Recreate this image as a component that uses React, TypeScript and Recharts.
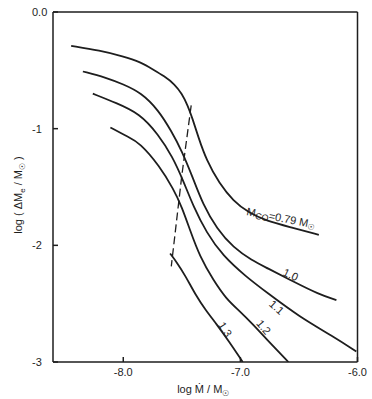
import React from "react";
import { LineChart, Line, XAxis, YAxis, ReferenceDot, Label } from "recharts";

// M_CO = 0.79 Msun
const x079 = [-8.445, -8.2, -8.0, -7.85, -7.75, -7.65, -7.56, -7.5, -7.45, -7.41, -7.36, -7.29, -7.18, -7.06, -6.93, -6.78, -6.55, -6.33];
const y079 = [-0.29, -0.33, -0.38, -0.43, -0.49, -0.55, -0.62, -0.7, -0.8, -0.91, -1.07, -1.27, -1.47, -1.62, -1.72, -1.79, -1.85, -1.91];

// M_CO = 1.0
const x10 = [-8.345, -8.15, -8.0, -7.85, -7.7, -7.59, -7.5, -7.41, -7.32, -7.2, -7.06, -6.9, -6.78, -6.55, -6.33, -6.18];
const y10 = [-0.51, -0.56, -0.62, -0.69, -0.84, -1.02, -1.19, -1.41, -1.65, -1.86, -2.02, -2.13, -2.19, -2.31, -2.42, -2.47];

// M_CO = 1.1
const x11 = [-8.26, -8.06, -7.86, -7.7, -7.58, -7.49, -7.4, -7.29, -7.15, -6.95, -6.78, -6.5, -6.21, -6.01];
const y11 = [-0.7, -0.78, -0.87, -1.05, -1.24, -1.44, -1.67, -1.89, -2.09, -2.27, -2.4, -2.61, -2.78, -2.91];

// M_CO = 1.2
const x12 = [-8.11, -7.96, -7.86, -7.69, -7.57, -7.5, -7.43, -7.345, -7.23, -7.12, -7.01, -6.9, -6.78, -6.59];
const y12 = [-0.99, -1.07, -1.12, -1.32, -1.52, -1.67, -1.87, -2.1, -2.3, -2.46, -2.56, -2.67, -2.8, -3.0];

// M_CO = 1.3
const x13 = [-7.6, -7.54, -7.47, -7.38, -7.3, -7.2, -7.1, -6.98];
const y13 = [-2.07, -2.15, -2.26, -2.43, -2.55, -2.68, -2.82, -3.0];

// dashed line
const xDash = [-7.42, -7.5, -7.59];
const yDash = [-0.8, -1.4, -2.18];

const xTicks = [-8, -7, -6];
const yTicks = [0, -1, -2, -3];
const xTopTicks = [-8, -7];
const yRightTicks = [-1, -2];

const curveLabels = [
  { text: "1.0", x: -6.57, y: -2.25, angle: 25 },
  { text: "1.1", x: -6.69, y: -2.53, angle: 42 },
  { text: "1.2", x: -6.8, y: -2.7, angle: 50 },
  { text: "1.3", x: -7.13, y: -2.72, angle: 57 },
];

const toPoints = (xs: number[], ys: number[]) => xs.map((x, i) => ({ x, y: ys[i] }));

const INK = "#1e1e1e";
const FONT = "'Liberation Sans', Arial, sans-serif";

const curves = [
  toPoints(x079, y079),
  toPoints(x10, y10),
  toPoints(x11, y11),
  toPoints(x12, y12),
  toPoints(x13, y13),
];

const YTick = ({ x, y, payload }: any) => (
  <text x={x} y={y} dy="0.35em" textAnchor="start" fontSize={11} fill={INK} fontFamily={FONT}>
    {payload.value === 0 ? "0.0" : String(payload.value)}
  </text>
);

const rotatedText = (text: string, angle: number) => (props: any) => (
  <text
    x={props.cx}
    y={props.cy}
    transform={`rotate(${angle}, ${props.cx}, ${props.cy})`}
    textAnchor="middle"
    dominantBaseline="central"
    fontSize={11}
    fill={INK}
    fontFamily={FONT}
  >
    {text}
  </text>
);

const mcoLabel = (props: any) => (
  <text
    x={props.cx}
    y={props.cy}
    transform={`rotate(11, ${props.cx}, ${props.cy})`}
    textAnchor="middle"
    dominantBaseline="central"
    fontSize={11}
    fill={INK}
    fontFamily={FONT}
  >
    M
    <tspan fontSize={9} dy={3}>CO</tspan>
    <tspan dy={-3}>=0.79 M</tspan>
    <tspan fontSize={8} dy={3}>☉</tspan>
  </text>
);

export default function App() {
  return (
    <div style={{ position: "absolute", left: 0, top: 0, background: "#fff" }}>
      <LineChart width={372} height={399} margin={{ top: 12, right: 14.5, bottom: 0, left: 0 }}>
        <XAxis
          xAxisId="b"
          dataKey="x"
          type="number"
          domain={[-8.6, -6]}
          allowDataOverflow
          ticks={xTicks}
          tickFormatter={(v: number) => v.toFixed(1)}
          height={37}
          tickSize={-5}
          tickMargin={11}
          stroke={INK}
          strokeWidth={1.5}
          tick={{ fontSize: 11, fill: INK, fontFamily: FONT }}
        >
          <Label
            content={({ viewBox }: any) => (
              <text
                x={viewBox.x + viewBox.width / 2 - 2}
                y={viewBox.y + 31}
                textAnchor="middle"
                fontSize={11}
                fill={INK}
                fontFamily={FONT}
              >
                log M{"\u0307"} / M
                <tspan fontSize={8} dy={3}>☉</tspan>
              </text>
            )}
          />
        </XAxis>
        <XAxis
          xAxisId="t"
          orientation="top"
          mirror
          dataKey="x"
          type="number"
          domain={[-8.6, -6]}
          allowDataOverflow
          ticks={xTopTicks}
          tick={false}
          height={20}
          tickSize={5}
          stroke={INK}
          strokeWidth={1.5}
        />
        <YAxis
          yAxisId="l"
          dataKey="y"
          type="number"
          domain={[-3, 0]}
          allowDataOverflow
          ticks={yTicks}
          width={53}
          tickSize={-5}
          tickMargin={26}
          stroke={INK}
          strokeWidth={1.5}
          tick={<YTick />}
        >
          <Label
            content={({ viewBox }: any) => {
              const cx = 22;
              const cy = viewBox.y + viewBox.height / 2 + 8;
              return (
                <text
                  x={cx}
                  y={cy}
                  transform={`rotate(-90, ${cx}, ${cy})`}
                  textAnchor="middle"
                  fontSize={11}
                  fill={INK}
                  fontFamily={FONT}
                >
                  log ( ΔM
                  <tspan fontSize={8} dy={3}>e</tspan>
                  <tspan dy={-3}> / M</tspan>
                  <tspan fontSize={8} dy={3}>☉</tspan>
                  <tspan dy={-3}> )</tspan>
                </text>
              );
            }}
          />
        </YAxis>
        <YAxis
          yAxisId="r"
          orientation="right"
          mirror
          dataKey="y"
          type="number"
          domain={[-3, 0]}
          allowDataOverflow
          ticks={yRightTicks}
          tick={false}
          width={20}
          tickSize={5}
          stroke={INK}
          strokeWidth={1.5}
        />
        {curves.map((pts, i) => (
          <Line
            key={i}
            xAxisId="b"
            yAxisId="l"
            data={pts}
            dataKey="y"
            type="basis"
            stroke={INK}
            strokeWidth={1.8}
            dot={false}
            activeDot={false}
            isAnimationActive={false}
          />
        ))}
        <Line
          xAxisId="b"
          yAxisId="l"
          data={toPoints(xDash, yDash)}
          dataKey="y"
          type="linear"
          stroke={INK}
          strokeWidth={1.3}
          strokeDasharray="8 4"
          dot={false}
          activeDot={false}
          isAnimationActive={false}
        />
        <ReferenceDot xAxisId="b" yAxisId="l" x={-6.653} y={-1.764} r={0} shape={mcoLabel} />
        {curveLabels.map((c) => (
          <ReferenceDot
            key={c.text}
            xAxisId="b"
            yAxisId="l"
            x={c.x}
            y={c.y}
            r={0}
            shape={rotatedText(c.text, c.angle)}
          />
        ))}
      </LineChart>
    </div>
  );
}
